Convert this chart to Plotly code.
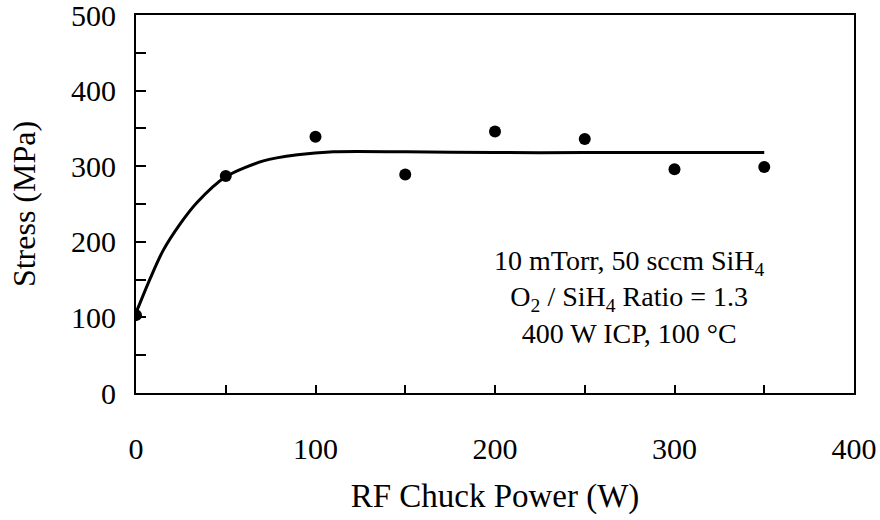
import plotly.graph_objects as go

# Measured data points
power_w = [0, 50, 100, 150, 200, 250, 300, 350]
stress_mpa = [103, 287, 339, 289, 346, 336, 296, 299]

# Trend curve
curve_x = [0, 8, 15, 25, 34, 50, 71, 90, 110, 150, 200, 250, 300, 350]
curve_y = [106, 152, 188, 225, 252, 286, 307, 315, 319, 319, 318, 318, 318, 318]

x_tick_vals = [0, 100, 200, 300, 400]
y_tick_vals = [0, 100, 200, 300, 400, 500]

note_lines = [
    "10 mTorr, 50 sccm SiH<sub>4</sub>",
    "O<sub>2</sub> / SiH<sub>4</sub> Ratio = 1.3",
    "400 W ICP, 100 °C",
]
note_x = 275
note_y = 127

FONT = "Liberation Serif, Times New Roman, serif"

fig = go.Figure()
fig.add_trace(go.Scatter(
    x=curve_x, y=curve_y, mode="lines",
    line=dict(color="black", width=3, shape="spline", smoothing=0.8),
    showlegend=False, hoverinfo="skip",
))
fig.add_trace(go.Scatter(
    x=power_w, y=stress_mpa, mode="markers",
    marker=dict(color="black", size=12),
    showlegend=False,
))

fig.add_annotation(
    x=note_x, y=note_y, xref="x", yref="y",
    text="<br>".join(note_lines), showarrow=False, align="center",
    xanchor="center", yanchor="middle",
    font=dict(family=FONT, size=28, color="black"),
)

fig.update_layout(
    width=880, height=520,
    margin=dict(l=136, r=26, t=15, b=127, autoexpand=False),
    paper_bgcolor="white", plot_bgcolor="white",
    font=dict(family=FONT, size=30, color="black"),
)
fig.update_xaxes(
    range=[0, 400], tickvals=x_tick_vals,
    showgrid=False, zeroline=False,
    showline=True, linecolor="black", linewidth=2, mirror=True,
    ticks="inside", ticklen=8, tickwidth=2, tickcolor="black",
    minor=dict(dtick=50, ticks="inside", ticklen=8, tickwidth=2, tickcolor="black", showgrid=False),
    tickfont=dict(family=FONT, size=30),
    ticklabelstandoff=28, ticklabeloverflow="allow",
    title=dict(text="RF Chuck Power (W)", font=dict(family=FONT, size=33), standoff=20),
)
fig.update_yaxes(
    range=[0, 500], tickvals=y_tick_vals,
    showgrid=False, zeroline=False,
    showline=True, linecolor="black", linewidth=2, mirror=True,
    ticks="inside", ticklen=10, tickwidth=2, tickcolor="black",
    minor=dict(dtick=50, ticks="inside", ticklen=10, tickwidth=2, tickcolor="black", showgrid=False),
    tickfont=dict(family=FONT, size=30),
    ticklabelstandoff=12, ticklabeloverflow="allow",
    title=dict(text="Stress (MPa)", font=dict(family=FONT, size=32), standoff=26),
)

fig.write_html("out.html")
